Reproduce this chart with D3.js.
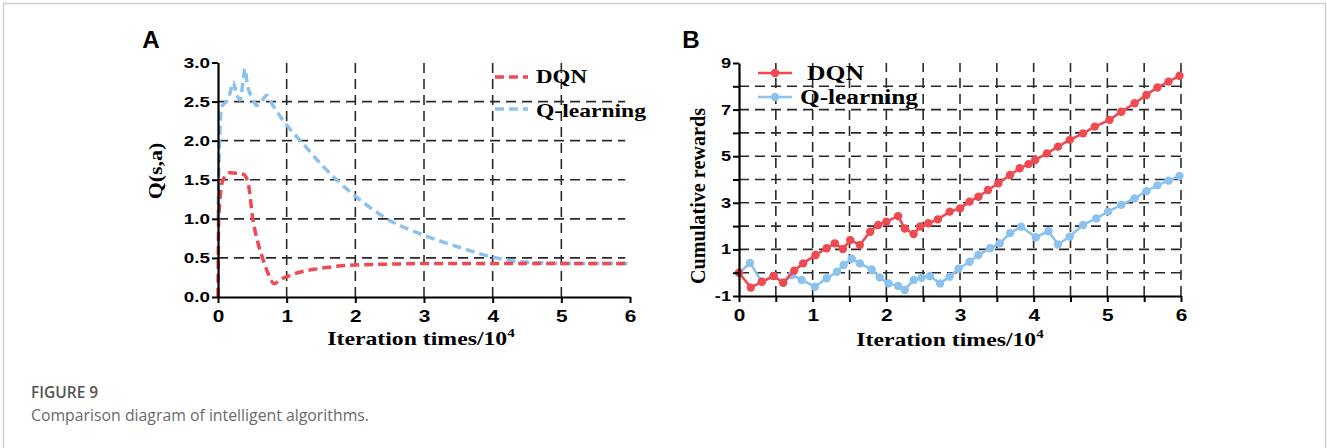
<!DOCTYPE html>
<html>
<head>
<meta charset="utf-8">
<script src="https://cdn.jsdelivr.net/npm/d3@7"></script>
<style>
  body { margin: 0; background: #fff; }
  svg { display: block; }
</style>
</head>
<body>
<svg id="fig" width="1327" height="448"></svg>
<script>
// panel A : Q values
const qIterDqn = [0, 0.01, 0.07, 0.17, 0.37, 0.44, 0.51, 0.58, 0.66, 0.74, 0.82, 0.9, 1.0, 1.2, 1.44, 1.7, 2.0, 2.5, 3.0, 4.0, 5.0, 6.0];
const qValDqn  = [0, 1.0, 1.49, 1.59, 1.57, 1.45, 0.98, 0.7, 0.47, 0.28, 0.17, 0.22, 0.26, 0.32, 0.36, 0.39, 0.41, 0.42, 0.43, 0.43, 0.43, 0.43];
const qIterQl  = [0, 0.02, 0.05, 0.12, 0.18, 0.22, 0.27, 0.32, 0.37, 0.39, 0.43, 0.5, 0.56, 0.63, 0.71, 0.8, 1.0, 1.25, 1.5, 1.75, 2.0, 2.5, 3.0, 3.5, 4.0, 4.3, 4.6, 5.0, 6.0];
const qValQl   = [1.0, 1.9, 2.43, 2.5, 2.62, 2.75, 2.6, 2.52, 2.8, 2.92, 2.7, 2.55, 2.45, 2.5, 2.58, 2.45, 2.2, 1.95, 1.7, 1.48, 1.29, 0.98, 0.79, 0.64, 0.51, 0.46, 0.44, 0.43, 0.43];
const qTicksY = [0, 0.5, 1, 1.5, 2, 2.5, 3];
const qTicksX = [0, 1, 2, 3, 4, 5, 6];

// panel B : cumulative rewards
const rIterDqn = [0, 0.16, 0.31, 0.47, 0.6, 0.75, 0.87, 1.04, 1.19, 1.3, 1.41, 1.51, 1.64, 1.78, 1.89, 2.0, 2.16, 2.25, 2.37, 2.46, 2.57, 2.7, 2.86, 3.0, 3.13, 3.25, 3.38, 3.52, 3.68, 3.81, 3.93, 4.02, 4.18, 4.33, 4.49, 4.67, 4.83, 5.03, 5.19, 5.37, 5.53, 5.68, 5.83, 5.98];
const rValDqn  = [0, -0.64, -0.39, -0.14, -0.43, 0.09, 0.40, 0.76, 1.05, 1.26, 1.02, 1.40, 1.19, 1.76, 2.05, 2.19, 2.43, 1.9, 1.66, 1.98, 2.12, 2.29, 2.62, 2.76, 3.05, 3.26, 3.55, 3.84, 4.19, 4.48, 4.66, 4.84, 5.12, 5.41, 5.70, 5.98, 6.27, 6.56, 6.91, 7.27, 7.63, 7.95, 8.2, 8.45];
const rIterQl  = [0, 0.15, 0.31, 0.47, 0.6, 0.72, 0.85, 1.03, 1.19, 1.33, 1.42, 1.53, 1.64, 1.8, 1.91, 2.03, 2.16, 2.25, 2.37, 2.48, 2.59, 2.73, 2.86, 2.98, 3.13, 3.25, 3.41, 3.54, 3.68, 3.83, 4.03, 4.2, 4.33, 4.49, 4.67, 4.85, 5.01, 5.19, 5.37, 5.53, 5.68, 5.83, 5.98];
const rValQl   = [0, 0.42, -0.39, -0.14, -0.43, -0.1, -0.31, -0.6, -0.24, 0.04, 0.33, 0.6, 0.40, 0.14, -0.2, -0.46, -0.57, -0.74, -0.31, -0.22, -0.14, -0.46, -0.17, 0.17, 0.47, 0.76, 1.05, 1.26, 1.7, 1.97, 1.52, 1.78, 1.21, 1.55, 2.05, 2.33, 2.62, 2.91, 3.19, 3.5, 3.75, 3.95, 4.15];
const rTicksY = [-1, 0, 1, 2, 3, 4, 5, 6, 7, 8, 9];
const rTicksX = [0, 0.5, 1, 1.5, 2, 2.5, 3, 3.5, 4, 4.5, 5, 5.5, 6];

const red = "#ef4a52", blue = "#8cc2ee";
const sans = "'Liberation Sans', Arial, sans-serif";
const serif = "'Liberation Serif', 'Times New Roman', serif";

const svg = d3.select("#fig");

// frame of the figure box
svg.append("path")
    .attr("d", "M3.5,448 V3.5 H1325.5 V448")
    .attr("fill", "none").attr("stroke", "#cfcfcf").attr("stroke-width", 1.5);

// stretched text helper (the source image is widened a bit)
function sText(x, y, str, size, fam, sx, anchor, weight) {
    return svg.append("text")
        .attr("transform", `translate(${x},${y}) scale(${sx},1)`)
        .attr("text-anchor", anchor || "start")
        .attr("font-family", fam)
        .attr("font-size", size)
        .attr("font-weight", weight || "bold")
        .attr("fill", "#000")
        .text(str);
}

function styleAxis(g, size) {
    g.select(".domain").attr("stroke", "#000").attr("stroke-width", 2.2);
    g.selectAll(".tick line").attr("stroke", "#000").attr("stroke-width", 2);
    g.selectAll(".tick text")
        .attr("font-family", sans).attr("font-weight", "bold")
        .attr("font-size", size).attr("fill", "#000");
}

function grid(g, xs, ys, x, y, x0, x1, y0, y1) {
    g.selectAll(".hg").data(ys).join("line")
        .attr("x1", x(x0)).attr("x2", x(x1))
        .attr("y1", d => y(d)).attr("y2", d => y(d));
    g.selectAll(".vg").data(xs).join("line")
        .attr("x1", d => x(d)).attr("x2", d => x(d))
        .attr("y1", y(y0)).attr("y2", y(y1));
    g.selectAll("line")
        .attr("stroke", "#2a2a2a").attr("stroke-width", 1.6)
        .attr("stroke-dasharray", "10,6");
}

// ---------- panel A ----------
const xA = d3.scaleLinear().domain([0, 6]).range([218, 630]);
const yA = d3.scaleLinear().domain([0, 3]).range([297, 62.5]);

const gridA = svg.append("g");
grid(gridA.append("g"), [], [0.5, 1, 1.5, 2, 2.5], xA, yA, 0, 5.93, 0, 0);
grid(gridA.append("g"), [1, 2, 3, 4, 5], [], xA, yA, 0, 0, 0, 3);

const lineA = d3.line().x(d => xA(d[0])).y(d => yA(d[1])).curve(d3.curveMonotoneX);
svg.append("path").datum(d3.zip(qIterQl, qValQl))
    .attr("d", lineA).attr("fill", "none").attr("stroke", blue)
    .attr("stroke-width", 3.5).attr("stroke-dasharray", "9,5");
svg.append("path").datum(d3.zip(qIterDqn, qValDqn))
    .attr("d", lineA).attr("fill", "none").attr("stroke", red)
    .attr("stroke-width", 3.5).attr("stroke-dasharray", "9,5");

const axAy = svg.append("g").attr("transform", `translate(${xA(0)},0)`)
    .call(d3.axisLeft(yA).tickValues(qTicksY).tickFormat(d3.format(".1f")).tickSize(6).tickSizeOuter(0));
styleAxis(axAy, 14.5);
axAy.selectAll(".tick text").attr("x", 0).attr("transform", "translate(-8,0) scale(1.3,1)");

const axAx = svg.append("g").attr("transform", `translate(0,${yA(0)})`)
    .call(d3.axisBottom(xA).tickValues(qTicksX).tickFormat(d3.format("d")).tickSize(6).tickSizeOuter(0));
styleAxis(axAx, 16);
axAx.selectAll(".tick text").attr("y", 0).attr("dy", 0).attr("transform", "translate(0,25) scale(1.3,1)");

sText(151, 48, "A", 23, sans, 1.05, "middle");
svg.append("text")
    .attr("transform", "translate(162,171) rotate(-90) scale(1.22,1)")
    .attr("text-anchor", "middle").attr("font-family", serif)
    .attr("font-weight", "bold").attr("font-size", 18)
    .text("Q(s,a)");

const xtA = sText(421, 345, "Iteration times/10", 19, serif, 1.25, "middle");
xtA.append("tspan").attr("font-size", 12).attr("dy", -8).text("4");

// legend A
const legA = [["DQN", red, 77, 83, 51], ["Q-learning", blue, 109, 117, 110]];
legA.forEach(([name, col, ly, ty, w]) => {
    svg.append("line").attr("x1", 495).attr("x2", 528).attr("y1", ly).attr("y2", ly)
        .attr("stroke", col).attr("stroke-width", 3.5).attr("stroke-dasharray", "9,5");
    svg.append("text").attr("x", 536).attr("y", ty)
        .attr("font-family", serif).attr("font-weight", "bold").attr("font-size", 19)
        .attr("textLength", w).attr("lengthAdjust", "spacingAndGlyphs").text(name);
});

// ---------- panel B ----------
const xB = d3.scaleLinear().domain([0, 6]).range([739, 1181]);
const yB = d3.scaleLinear().domain([-1, 9]).range([296, 63]);

const gridB = svg.append("g");
grid(gridB.append("g"), [], [0, 1, 2, 3, 4, 5, 6, 7, 8], xB, yB, 0, 6, 0, 0);
grid(gridB.append("g"), [0.5, 1, 1.5, 2, 2.5, 3, 3.5, 4, 4.5, 5, 5.5, 6], [], xB, yB, 0, 0, -1, 9);

const lineB = d3.line().x(d => xB(d[0])).y(d => yB(d[1]));
[[rIterQl, rValQl, blue], [rIterDqn, rValDqn, red]].forEach(([xs, ys, col]) => {
    const pts = d3.zip(xs, ys);
    svg.append("path").datum(pts).attr("d", lineB)
        .attr("fill", "none").attr("stroke", col).attr("stroke-width", 2.6);
    svg.append("g").selectAll("circle").data(pts).join("circle")
        .attr("cx", d => xB(d[0])).attr("cy", d => yB(d[1])).attr("r", 4.2)
        .attr("fill", col);
});

const axBy = svg.append("g").attr("transform", `translate(${xB(0)},0)`)
    .call(d3.axisLeft(yB).tickValues(rTicksY).tickFormat(d => (d % 2 ? d : "")).tickSize(6).tickSizeOuter(0));
styleAxis(axBy, 14);
axBy.selectAll(".tick text").attr("x", 0).attr("transform", "translate(-8,0) scale(1.3,1)");

const axBx = svg.append("g").attr("transform", `translate(0,${yB(-1)})`)
    .call(d3.axisBottom(xB).tickValues(rTicksX).tickFormat(d => (Number.isInteger(d) ? d : "")).tickSize(6).tickSizeOuter(0));
styleAxis(axBx, 16);
axBx.selectAll(".tick text").attr("y", 0).attr("dy", 0).attr("transform", "translate(0,25) scale(1.3,1)");

sText(691, 48, "B", 23, sans, 1.05, "middle");
svg.append("text")
    .attr("transform", "translate(705,196) rotate(-90)")
    .attr("text-anchor", "middle").attr("font-family", serif)
    .attr("font-weight", "bold").attr("font-size", 20)
    .attr("textLength", 176).attr("lengthAdjust", "spacingAndGlyphs")
    .text("Cumulative rewards");

const xtB = sText(950, 346, "Iteration times/10", 19, serif, 1.25, "middle");
xtB.append("tspan").attr("font-size", 12).attr("dy", -8).text("4");

// legend B
const legB = [["DQN", red, 73, 80, 57], ["Q-learning", blue, 97, 104, 118]];
legB.forEach(([name, col, ly, ty, w], i) => {
    svg.append("line").attr("x1", 758).attr("x2", 792).attr("y1", ly).attr("y2", ly)
        .attr("stroke", col).attr("stroke-width", 2.6);
    svg.append("circle").attr("cx", 775).attr("cy", ly).attr("r", 4.2).attr("fill", col);
    svg.append("text").attr("x", i ? 800 : 807).attr("y", ty)
        .attr("font-family", serif).attr("font-weight", "bold").attr("font-size", 20)
        .attr("textLength", w).attr("lengthAdjust", "spacingAndGlyphs").text(name);
});

// ---------- caption ----------
svg.append("text").attr("x", 31).attr("y", 398)
    .attr("font-family", "'Open Sans', sans-serif").attr("font-weight", 600)
    .attr("font-size", 15.5).attr("fill", "#555").text("FIGURE 9");
svg.append("text").attr("x", 31).attr("y", 421)
    .attr("font-family", "'Open Sans', sans-serif").attr("font-weight", 400)
    .attr("font-size", 15.5).attr("fill", "#6a6a6a")
    .attr("textLength", 338).attr("lengthAdjust", "spacingAndGlyphs")
    .text("Comparison diagram of intelligent algorithms.");
</script>
</body>
</html>
